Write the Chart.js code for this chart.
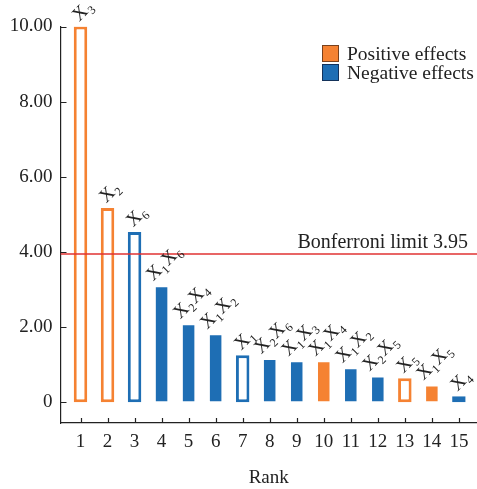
<!DOCTYPE html>
<html>
<head>
<meta charset="utf-8">
<script src="https://cdn.jsdelivr.net/npm/chart.js@4.4.1/dist/chart.umd.min.js"></script>
<style>
  html, body { margin: 0; padding: 0; background: #fff; }
  #wrap { width: 477px; height: 489px; }
</style>
</head>
<body>
<div id="wrap"><canvas id="effectsChart" width="477" height="489"></canvas></div>
<script>
// Dữ liệu
const ranks = [1, 2, 3, 4, 5, 6, 7, 8, 9, 10, 11, 12, 13, 14, 15];
const effectValues = [10.0, 5.17, 4.53, 3.09, 2.08, 1.81, 1.25, 1.15, 1.09, 1.09, 0.91, 0.69, 0.64, 0.45, 0.16];
const termLabels = ['X3', 'X2', 'X6', 'X1X6', 'X2X4', 'X1X2', 'X1', 'X2X6', 'X1X3', 'X1X4', 'X1X2', 'X2X5', 'X5', 'X1X5', 'X4'];
const effectSigns = ['+', '+', '-', '-', '-', '-', '-', '-', '-', '+', '-', '-', '+', '+', '-'];
const mainEffects = [true, true, true, false, false, false, true, false, false, false, false, false, true, false, true];
const yTickValues = [0, 2, 4, 6, 8, 10];
const yTickLabels = ['0', '2.00', '4.00', '6.00', '8.00', '10.00'];
const bonferroniLimit = 3.95;
const legendLabels = ['Positive effects', 'Negative effects'];

const ORANGE = 'rgb(245, 130, 50)';
const BLUE = 'rgb(30, 110, 180)';
const TEXT = '#222';
const SERIF = '"Liberation Serif", "Times New Roman", serif';

const X_MIN = 0.26, X_MAX = 15.67;

const barColor = effectSigns.map(s => s === '+' ? ORANGE : BLUE);

// Nhãn xoay 45 độ trên đỉnh mỗi cột
const barLabelPlugin = {
    id: 'barLabels',
    afterDatasetsDraw(chart) {
        const ctx = chart.ctx;
        const meta = chart.getDatasetMeta(0);
        meta.data.forEach((bar, i) => {
            const terms = [...termLabels[i].matchAll(/X(\d)/g)].map(m => m[1]);
            const off = terms.length > 1 ? -7 : 0;
            ctx.save();
            ctx.translate(bar.x + off, bar.y - 13);
            ctx.rotate(-Math.PI / 4);
            ctx.fillStyle = TEXT;
            ctx.textBaseline = 'middle';
            let cursor = 0;
            terms.forEach((sub, k) => {
                ctx.font = '19px ' + SERIF;
                const wX = ctx.measureText('X').width;
                if (k === 0) cursor = -wX / 2;
                ctx.textAlign = 'left';
                ctx.fillText('X', cursor, 0);
                cursor += wX;
                ctx.font = '12px ' + SERIF;
                ctx.fillText(sub, cursor + 0.5, 6);
                cursor += ctx.measureText(sub).width + 1.5;
            });
            ctx.restore();
        });
    }
};

// Vạch chia hướng vào trong, chú giải và nhãn Bonferroni
const decorPlugin = {
    id: 'decor',
    afterDraw(chart) {
        const ctx = chart.ctx;
        const xs = chart.scales.x, ys = chart.scales.y;
        const area = chart.chartArea;
        ctx.save();
        ctx.strokeStyle = TEXT;
        ctx.lineWidth = 1.2;
        ctx.beginPath();
        yTickValues.forEach(v => {
            const py = Math.round(ys.getPixelForValue(v)) + 0.5;
            ctx.moveTo(area.left, py);
            ctx.lineTo(area.left + 6, py);
        });
        ranks.forEach(r => {
            const px = Math.round(xs.getPixelForValue(r)) + 0.5;
            ctx.moveTo(px, area.bottom);
            ctx.lineTo(px, area.bottom - 5);
        });
        ctx.stroke();

        // Nhãn Bonferroni
        ctx.fillStyle = TEXT;
        ctx.font = '20px ' + SERIF;
        ctx.textAlign = 'right';
        ctx.textBaseline = 'alphabetic';
        ctx.fillText('Bonferroni limit ' + bonferroniLimit.toFixed(2), area.right - 9, ys.getPixelForValue(bonferroniLimit) - 6);

        // Chú giải
        const legendColors = [ORANGE, BLUE];
        const legendEdges = ['rgb(120, 65, 30)', 'rgb(20, 50, 90)'];
        legendLabels.forEach((txt, i) => {
            const top = 45 + i * 19;
            ctx.fillStyle = legendColors[i];
            ctx.fillRect(322, top, 17, 17);
            ctx.strokeStyle = legendEdges[i];
            ctx.lineWidth = 1;
            ctx.strokeRect(322.5, top + 0.5, 16, 16);
            ctx.fillStyle = TEXT;
            ctx.font = '19.5px ' + SERIF;
            ctx.textAlign = 'left';
            ctx.textBaseline = 'alphabetic';
            ctx.fillText(txt, 347, top + 15);
        });
        ctx.restore();
    }
};

new Chart(document.getElementById('effectsChart'), {
    type: 'bar',
    data: {
        datasets: [{
            label: 'Effects',
            data: ranks.map((r, i) => ({ x: r, y: effectValues[i] })),
            backgroundColor: mainEffects.map((m, i) => m ? '#fff' : barColor[i]),
            borderColor: mainEffects.map((m, i) => m ? barColor[i] : 'rgba(255,255,255,0.35)'),
            borderWidth: mainEffects.map(m => m ? 3 : 1),
            borderSkipped: false,
            barPercentage: 0.5,
            categoryPercentage: 1.0,
            order: 2
        }, {
            type: 'line',
            label: 'Bonferroni',
            data: [{ x: X_MIN, y: bonferroniLimit }, { x: X_MAX, y: bonferroniLimit }],
            borderColor: 'rgb(225, 50, 50)',
            borderWidth: 1.5,
            pointRadius: 0,
            fill: false,
            order: 1
        }]
    },
    options: {
        responsive: false,
        animation: false,
        layout: { padding: { top: 26.5, right: 0, left: 0, bottom: 0 } },
        scales: {
            x: {
                type: 'linear',
                offset: false,
                min: X_MIN,
                max: X_MAX,
                grid: { display: false, drawTicks: false },
                border: { display: true, color: TEXT, width: 1.2 },
                afterBuildTicks: s => { s.ticks = ranks.map(v => ({ value: v })); },
                afterFit: s => { s.height = 66; s.paddingLeft = 0; s.paddingRight = 0; },
                ticks: {
                    color: TEXT,
                    font: { family: SERIF, size: 19 },
                    padding: 8,
                    maxRotation: 0,
                    autoSkip: false,
                    callback: v => String(v)
                },
                title: {
                    display: true,
                    text: 'Rank',
                    color: TEXT,
                    font: { family: SERIF, size: 19 },
                    padding: { top: 0, bottom: 0 }
                }
            },
            y: {
                min: -0.55,
                max: 10,
                grid: { display: false, drawTicks: false },
                border: { display: true, color: TEXT, width: 1.2 },
                afterBuildTicks: s => { s.ticks = yTickValues.map(v => ({ value: v })); },
                afterFit: s => { s.width = 60.5; s.paddingTop = 0; s.paddingBottom = 0; },
                ticks: {
                    color: TEXT,
                    font: { family: SERIF, size: 19 },
                    padding: 8,
                    callback: v => yTickLabels[yTickValues.indexOf(v)]
                }
            }
        },
        plugins: {
            legend: { display: false },
            tooltip: { enabled: false }
        }
    },
    plugins: [barLabelPlugin, decorPlugin]
});
</script>
</body>
</html>
